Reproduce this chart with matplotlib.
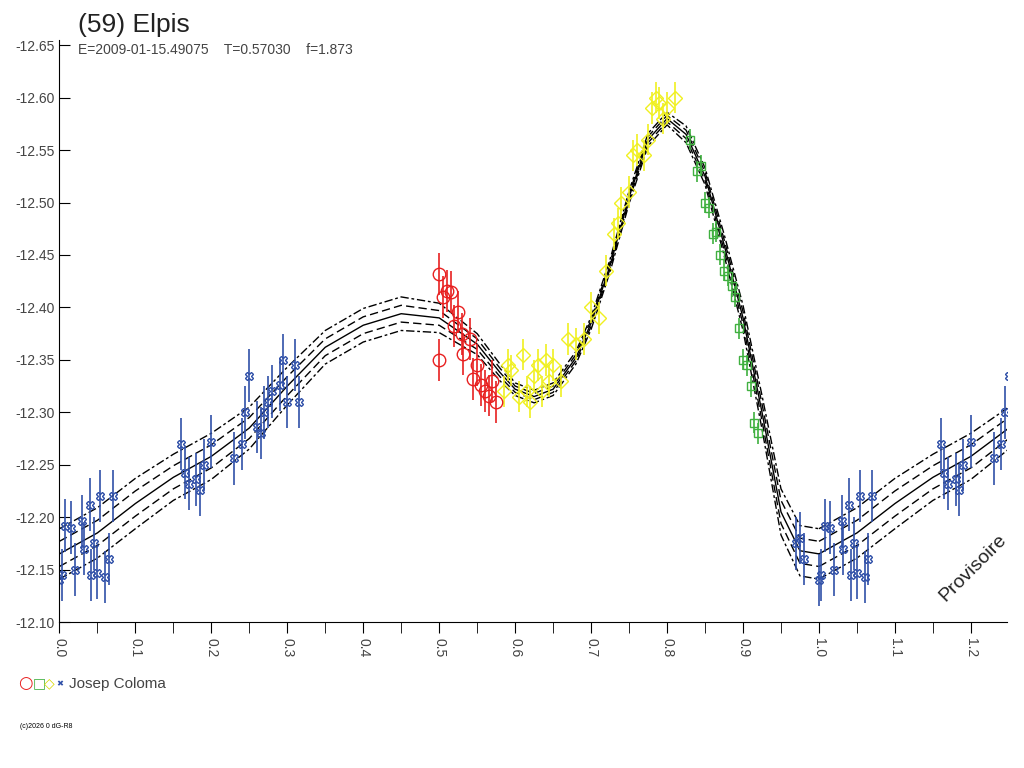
import numpy as np
import matplotlib.pyplot as plt

plt.rcParams['font.family'] = ['Liberation Sans', 'DejaVu Sans']

# model curve (one period)
curve_ph = [0.00, 0.05, 0.10, 0.15, 0.20, 0.25, 0.30, 0.35, 0.40, 0.45, 0.50, 0.55, 0.58, 0.60, 0.625,
            0.65, 0.68, 0.70, 0.725, 0.75, 0.775, 0.80, 0.825, 0.85, 0.875, 0.90, 0.925, 0.95, 0.975, 1.00]
curve_mag = [-12.165, -12.185, -12.213, -12.238, -12.258, -12.285, -12.325, -12.362, -12.383, -12.394, -12.390,
             -12.365, -12.338, -12.322, -12.315, -12.322, -12.352, -12.385, -12.440, -12.505, -12.560, -12.580,
             -12.565, -12.525, -12.460, -12.390, -12.300, -12.205, -12.168, -12.165]
band1 = [0.012, 0.012, 0.012, 0.011, 0.011, 0.010, 0.009, 0.008, 0.008, 0.008, 0.007, 0.005, 0.004, 0.003, 0.003,
         0.003, 0.003, 0.003, 0.003, 0.003, 0.003, 0.003, 0.004, 0.004, 0.005, 0.006, 0.008, 0.011, 0.012, 0.012]

blue_ph = [0.000, 0.003, 0.008, 0.015, 0.020, 0.030, 0.032, 0.040, 0.042, 0.046, 0.050, 0.054, 0.060, 0.065, 0.070,
           0.160, 0.165, 0.170, 0.180, 0.185, 0.190, 0.200, 0.230, 0.240, 0.245, 0.250, 0.260, 0.265, 0.270, 0.275,
           0.280, 0.290, 0.295, 0.300, 0.310, 0.315, 0.970, 0.975, 0.980]
blue_mag = [-12.140, -12.145, -12.192, -12.190, -12.150, -12.196, -12.170, -12.212, -12.145, -12.175, -12.147,
            -12.220, -12.143, -12.160, -12.220, -12.270, -12.242, -12.232, -12.236, -12.226, -12.250, -12.272,
            -12.256, -12.270, -12.300, -12.335, -12.286, -12.280, -12.300, -12.310, -12.320, -12.326, -12.350,
            -12.310, -12.345, -12.310, -12.175, -12.180, -12.160]
blue_err = 0.025

red_ph = [0.500, 0.500, 0.505, 0.510, 0.515, 0.520, 0.525, 0.530, 0.532, 0.540, 0.545, 0.550, 0.555, 0.560,
          0.565, 0.570, 0.575]
red_mag = [-12.432, -12.350, -12.410, -12.416, -12.415, -12.382, -12.396, -12.375, -12.356, -12.370, -12.332,
           -12.345, -12.326, -12.320, -12.316, -12.330, -12.310]
red_err = 0.02

yel_ph = [0.585, 0.590, 0.595, 0.605, 0.610, 0.615, 0.620, 0.625, 0.630, 0.635, 0.640, 0.645, 0.650, 0.660,
          0.670, 0.680, 0.690, 0.700, 0.710, 0.720, 0.730, 0.735, 0.740, 0.750, 0.755, 0.760, 0.770, 0.775,
          0.780, 0.785, 0.790, 0.795, 0.800, 0.810]
yel_mag = [-12.320, -12.345, -12.340, -12.315, -12.355, -12.320, -12.310, -12.335, -12.345, -12.320, -12.350,
           -12.330, -12.345, -12.330, -12.370, -12.365, -12.370, -12.400, -12.390, -12.435, -12.470, -12.480,
           -12.500, -12.510, -12.545, -12.550, -12.545, -12.560, -12.590, -12.600, -12.595, -12.580, -12.590,
           -12.600]
yel_err = 0.015

grn_ph = [0.830, 0.840, 0.845, 0.850, 0.855, 0.860, 0.865, 0.870, 0.875, 0.880, 0.885, 0.890, 0.895, 0.900,
          0.905, 0.910, 0.915, 0.920]
grn_mag = [-12.560, -12.530, -12.535, -12.500, -12.495, -12.470, -12.472, -12.450, -12.435, -12.430, -12.420,
           -12.410, -12.380, -12.350, -12.345, -12.325, -12.290, -12.280]
grn_err = 0.01

fig = plt.figure(figsize=(10.24, 7.68), dpi=100)
ax = fig.add_axes([0.058, 0.19, 0.925, 0.758])

cp = np.array(curve_ph)
cm = np.array(curve_mag)
b1 = np.array(band1)
for shift in (0, 1):
    p = cp + shift
    ax.plot(p, cm, color='black', lw=1)
    ax.plot(p, cm + b1, color='black', lw=1, ls=(0, (6, 3)))
    ax.plot(p, cm - b1, color='black', lw=1, ls=(0, (6, 3)))
    ax.plot(p, cm + 2 * b1, color='black', lw=1, ls=(0, (6, 2, 2, 2)))
    ax.plot(p, cm - 2 * b1, color='black', lw=1, ls=(0, (6, 2, 2, 2)))

bp = np.array(blue_ph)
for shift in (0, 1):
    ax.errorbar(bp + shift, blue_mag, yerr=blue_err, fmt='X', ms=6, mfc='none', mec='#3050a8',
                ecolor='#3050a8', elinewidth=1.2)
ax.errorbar(red_ph, red_mag, yerr=red_err, fmt='o', ms=9, mfc='none', mec='#e82020',
            ecolor='#e82020', elinewidth=1.2)
ax.errorbar(yel_ph, yel_mag, yerr=yel_err, fmt='D', ms=7, mfc='none', mec='#f0f020',
            ecolor='#f0f020', elinewidth=1.2)
ax.errorbar(grn_ph, grn_mag, yerr=grn_err, fmt='s', ms=6, mfc='none', mec='#40b040',
            ecolor='#40b040', elinewidth=1.2)

ax.set_xlim(0, 1.247)
ax.set_ylim(-12.10, -12.655)
ax.set_xticks(np.arange(0, 1.21, 0.1))
ax.set_xticklabels(['%.1f' % v for v in np.arange(0, 1.21, 0.1)], rotation=-90, fontsize=10, color='#444444')
ax.set_xticks(np.arange(0.05, 1.25, 0.1), minor=True)
ax.set_yticks(np.arange(-12.65, -12.09, 0.05))
ax.set_yticklabels(['%.2f' % v for v in np.arange(-12.65, -12.09, 0.05)], fontsize=10, color='#444444')
ax.tick_params(axis='both', which='both', length=8, direction='out')
ax.tick_params(axis='y', direction='in', length=8)
for s in ('top', 'right'):
    ax.spines[s].set_visible(False)

fig.text(0.076, 0.958, '(59) Elpis', fontsize=19, color='#222222')
fig.text(0.076, 0.930, 'E=2009-01-15.49075    T=0.57030    f=1.873', fontsize=10, color='#444444')
ax.text(0.965, 0.03, 'Provisoire', transform=ax.transAxes, rotation=45, fontsize=14,
        ha='center', va='bottom', color='#222222')

fig.text(0.018, 0.104, '\u25cb', color='#e82020', fontsize=12, family='DejaVu Sans')
fig.text(0.032, 0.105, '\u25a1', color='#40b040', fontsize=10, family='DejaVu Sans')
fig.text(0.043, 0.105, '\u25c7', color='#d8d800', fontsize=10, family='DejaVu Sans')
fig.text(0.055, 0.107, '\u2716', color='#3050a8', fontsize=6, family='DejaVu Sans')
fig.text(0.067, 0.104, 'Josep Coloma', fontsize=11, color='#444444')
fig.text(0.02, 0.052, '(c)2026 0 dG-R8', fontsize=5)

fig.savefig('out.png')
